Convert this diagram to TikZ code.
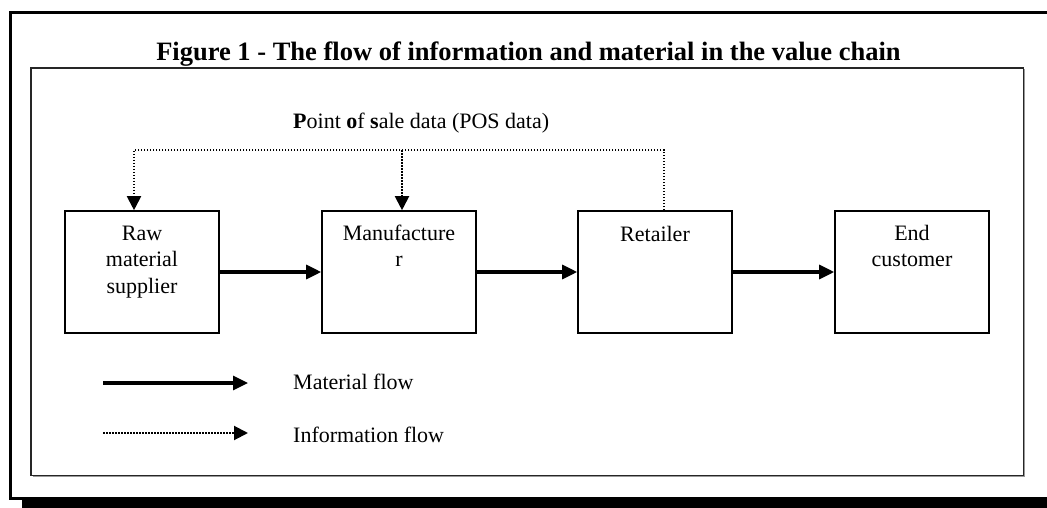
\documentclass[tikz,border=0pt]{standalone}
\usepackage{fontspec}
\setmainfont{Liberation Serif}
\usetikzlibrary{arrows.meta}

\tikzset{
  stagebox/.style={draw=black, line width=1.6pt, minimum width=154pt, minimum height=122pt, inner sep=0pt},
  stagetext/.style={anchor=base, inner sep=0pt, font=\fontsize{22}{26.5}\selectfont},
  plaintext/.style={anchor=base west, inner sep=0pt, font=\fontsize{22}{26.5}\selectfont},
  matflow/.style={line width=3.2pt, -{Triangle[length=15pt,width=14pt]}},
  infoline/.style={line width=2pt, dash pattern=on 1.7pt off 1.3pt},
  infoflow/.style={infoline, -{Triangle[length=14pt,width=14pt]}},
}

\begin{document}
\begin{tikzpicture}[x=1pt, y=-1pt]
  \useasboundingbox (0,0) rectangle (1047,508);

  % outer frame with its drop shadow along the bottom
  \draw[line width=3pt, line join=miter] (1047,12.8) -- (10,12.8) -- (10,498) -- (22,498);
  \fill[black] (22,497) rectangle (1047,508);

  % title
  \node[anchor=base, inner sep=0pt, font=\bfseries\fontsize{26.5}{30}\selectfont] (title) at (528.5,61)
    {Figure 1 - The flow of information and material in the value chain};

  % inner frame
  \draw[black!40, line width=1pt] (32.5,476.8) -- (1024.8,476.8) -- (1024.8,69.5);
  \draw[black!85, line width=1.8pt] (31,68) rectangle (1023.5,475.5);

  % stages of the chain
  \node[stagebox] (b1) at (142,272) {};
  \node[stagebox] (b2) at (399,272) {};
  \node[stagebox] (b3) at (655,272) {};
  \node[stagebox] (b4) at (912,272) {};

  \node[stagetext] (t1) at (142,240) {\begin{tabular}[t]{@{}c@{}}Raw\\material\\supplier\end{tabular}};
  \node[stagetext] (t2) at (399,240) {\begin{tabular}[t]{@{}c@{}}Manufacture\\r\end{tabular}};
  \node[stagetext] (t3) at (655,241) {Retailer};
  \node[stagetext] (t4) at (912,240) {\begin{tabular}[t]{@{}c@{}}End\\customer\end{tabular}};

  % material flow
  \draw[matflow] (b1.east) -- (b2.west);
  \draw[matflow] (b2.east) -- (b3.west);
  \draw[matflow] (b3.east) -- (b4.west);

  % information flow (POS data)
  \coordinate (c1) at (134,150);
  \coordinate (c2) at (402,150);
  \coordinate (c3) at (664,150);
  \node[plaintext] (pos) at (293,129) {\textbf{P}oint \textbf{o}f \textbf{s}ale data (POS data)};
  \draw[infoflow] (c3 |- b3.north) -- (c3) -- (c1) -- (c1 |- b1.north);
  \draw[infoflow] (c2) -- (c2 |- b2.north);

  % legend
  \coordinate (m1) at (103,383);
  \coordinate (m2) at (248,383);
  \coordinate (i1) at (103,433);
  \coordinate (i2) at (248,433);
  \draw[matflow] (m1) -- (m2);
  \draw[infoflow] (i1) -- (i2);
  \node[plaintext] (lm) at (293,389) {Material flow};
  \node[plaintext] (li) at (293,442) {Information flow};
\end{tikzpicture}
\end{document}
